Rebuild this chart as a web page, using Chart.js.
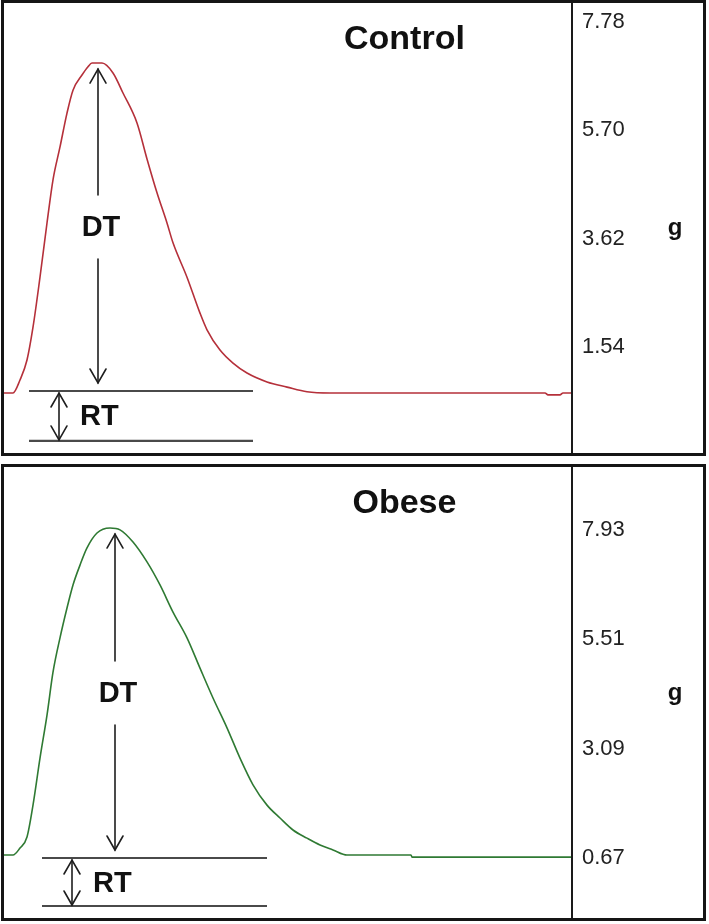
<!DOCTYPE html>
<html>
<head>
<meta charset="utf-8">
<script src="https://cdn.jsdelivr.net/npm/chart.js@4.4.1/dist/chart.umd.min.js"></script>
<style>
  html, body { margin: 0; padding: 0; background: #ffffff; }
  body { width: 709px; height: 924px; position: relative; overflow: hidden; }
  .panel { position: absolute; left: 1px; width: 699px; border: 3px solid #151515; background: #fff; }
  #p1 { top: 0px; height: 450px; }
  #p2 { top: 464px; height: 451px; }
  canvas { display: block; }
</style>
</head>
<body>
<div class="panel" id="p1"><canvas id="c1" width="699" height="450"></canvas></div>
<div class="panel" id="p2"><canvas id="c2" width="699" height="451"></canvas></div>
<script>
// ---------------- DATA ----------------
// time axis (arbitrary units) and force in g
const controlTime  = [0, 9, 16, 23, 29, 36, 43, 49, 56, 63, 69, 78, 84, 88, 98, 109, 119, 133, 143, 153, 163, 169, 183, 196, 203, 216, 229, 243, 263, 283, 303, 326, 541, 544, 556, 559, 567];
const controlForce = [0.657, 0.657, 0.907, 1.29, 1.92, 2.88, 3.92, 4.75, 5.38, 6.03, 6.47, 6.76, 6.92, 6.99, 6.99, 6.80, 6.415, 5.84, 5.15, 4.50, 3.92, 3.54, 2.88, 2.19, 1.87, 1.48, 1.23, 1.04, 0.87, 0.77, 0.68, 0.657, 0.657, 0.62, 0.62, 0.657, 0.657];

const obeseTime  = [0, 9, 16, 23, 29, 36, 43, 49, 56, 63, 69, 76, 83, 93, 106, 116, 129, 143, 156, 169, 183, 196, 209, 223, 236, 249, 263, 276, 289, 303, 316, 329, 343, 407, 408, 567];
const obeseForce = [0.736, 0.736, 0.89, 1.135, 1.84, 2.88, 3.83, 4.78, 5.54, 6.20, 6.71, 7.15, 7.53, 7.86, 7.97, 7.93, 7.66, 7.22, 6.71, 6.11, 5.54, 4.87, 4.21, 3.55, 2.88, 2.29, 1.84, 1.555, 1.29, 1.11, 0.96, 0.85, 0.736, 0.736, 0.69, 0.69];

const controlTicks = [1.54, 3.62, 5.70, 7.78];
const obeseTicks   = [0.67, 3.09, 5.51, 7.93];

// annotation levels (g) and positions (time units)
const controlRT = [0.695, -0.264];   // RT upper / lower levels
const obeseRT   = [0.67, -0.392];
const controlRTSpan = [25, 249];
const obeseRTSpan   = [38, 263];
const controlArrowX = [94, 55];      // DT arrow, RT arrow
const obeseArrowX   = [111, 68];

// -------------- DRAWING ---------------
const FAM = '"Liberation Sans", Arial, Helvetica, sans-serif';

function head(ctx, x, y, dir) {
  ctx.beginPath();
  ctx.moveTo(x - 8, y - dir * 14);
  ctx.lineTo(x, y);
  ctx.lineTo(x + 8, y - dir * 14);
  ctx.stroke();
}

const annotPlugin = {
  id: 'annot',
  afterDatasetsDraw(chart) {
    const o = chart.options.plugins.annot;
    const ctx = chart.ctx, xs = chart.scales.x, ys = chart.scales.y, ca = chart.chartArea;
    ctx.save();
    ctx.strokeStyle = '#1e1e1e';
    ctx.fillStyle = '#111';
    ctx.lineWidth = 1.6;
    ctx.lineCap = 'round';

    // DT arrow from peak to RT upper line
    const peak = Math.max(...o.values);
    const xd = xs.getPixelForValue(o.arrowX[0]);
    const yPeak = ys.getPixelForValue(peak);
    const yBase = ys.getPixelForValue(o.rt[0]);
    const yTop = yPeak + 6, yBot = yBase - 8, yMid = (yPeak + yBase) / 2;
    ctx.beginPath();
    ctx.moveTo(xd, yTop); ctx.lineTo(xd, yMid - 32);
    ctx.moveTo(xd, yMid + 32); ctx.lineTo(xd, yBot);
    ctx.stroke();
    head(ctx, xd, yTop, -1);
    head(ctx, xd, yBot, 1);
    ctx.font = 'bold 29px ' + FAM;
    ctx.textAlign = 'center';
    ctx.textBaseline = 'middle';
    ctx.fillText('DT', xd + 3, yMid + 1);

    // RT arrow between the two RT lines
    const xr = xs.getPixelForValue(o.arrowX[1]);
    const y1 = ys.getPixelForValue(o.rt[0]) + 2;
    const y2 = ys.getPixelForValue(o.rt[1]) - 1;
    ctx.beginPath(); ctx.moveTo(xr, y1); ctx.lineTo(xr, y2); ctx.stroke();
    head(ctx, xr, y1, -1);
    head(ctx, xr, y2, 1);
    ctx.textAlign = 'left';
    ctx.fillText('RT', xr + 21, (y1 + y2) / 2 + 1);

    // title
    ctx.font = 'bold 34px ' + FAM;
    ctx.textAlign = 'center';
    ctx.textBaseline = 'alphabetic';
    ctx.fillText(o.title, ca.left + ca.width * 0.705, ca.top + 46);

    // unit
    ctx.font = 'bold 24px ' + FAM;
    ctx.fillText('g', ca.right + 103, ca.top + ca.height * 0.516);
    ctx.restore();
  }
};

function makeChart(id, title, times, values, color, ticks, yMin, yMax, rt, span, arrowX) {
  const pts = times.map((t, i) => ({ x: t, y: values[i] }));
  return new Chart(document.getElementById(id), {
    type: 'line',
    data: {
      datasets: [
        { data: pts, borderColor: color, borderWidth: 1.6, pointRadius: 0, fill: false,
          cubicInterpolationMode: 'monotone' },
        { data: [{ x: span[0], y: rt[0] }, { x: span[1], y: rt[0] }], borderColor: '#4a4a4a',
          borderWidth: 2.2, pointRadius: 0, fill: false },
        { data: [{ x: span[0], y: rt[1] }, { x: span[1], y: rt[1] }], borderColor: '#4a4a4a',
          borderWidth: 2.2, pointRadius: 0, fill: false }
      ]
    },
    options: {
      responsive: false,
      animation: false,
      events: [],
      layout: { padding: 0 },
      plugins: {
        legend: { display: false },
        tooltip: { enabled: false },
        annot: { title, values, rt, arrowX }
      },
      scales: {
        x: { type: 'linear', min: 0, max: 568, display: false },
        y: {
          position: 'right', min: yMin, max: yMax,
          grid: { display: false, drawTicks: false },
          border: { display: true, color: '#1a1a1a', width: 2 },
          ticks: { padding: 10, autoSkip: false, color: '#222',
                   font: { size: 22, family: FAM },
                   callback: v => Number(v).toFixed(2) },
          afterBuildTicks: s => { s.ticks = ticks.map(v => ({ value: v })); },
          afterFit: s => { s.width = 131; s.paddingTop = 0; s.paddingBottom = 0; }
        }
      }
    },
    plugins: [annotPlugin]
  });
}

makeChart('c1', 'Control', controlTime, controlForce, '#b5303a', controlTicks, -0.495, 8.143,
          controlRT, controlRTSpan, controlArrowX);
makeChart('c2', 'Obese', obeseTime, obeseForce, '#2f7a33', obeseTicks, -0.657, 9.32,
          obeseRT, obeseRTSpan, obeseArrowX);
</script>
</body>
</html>
